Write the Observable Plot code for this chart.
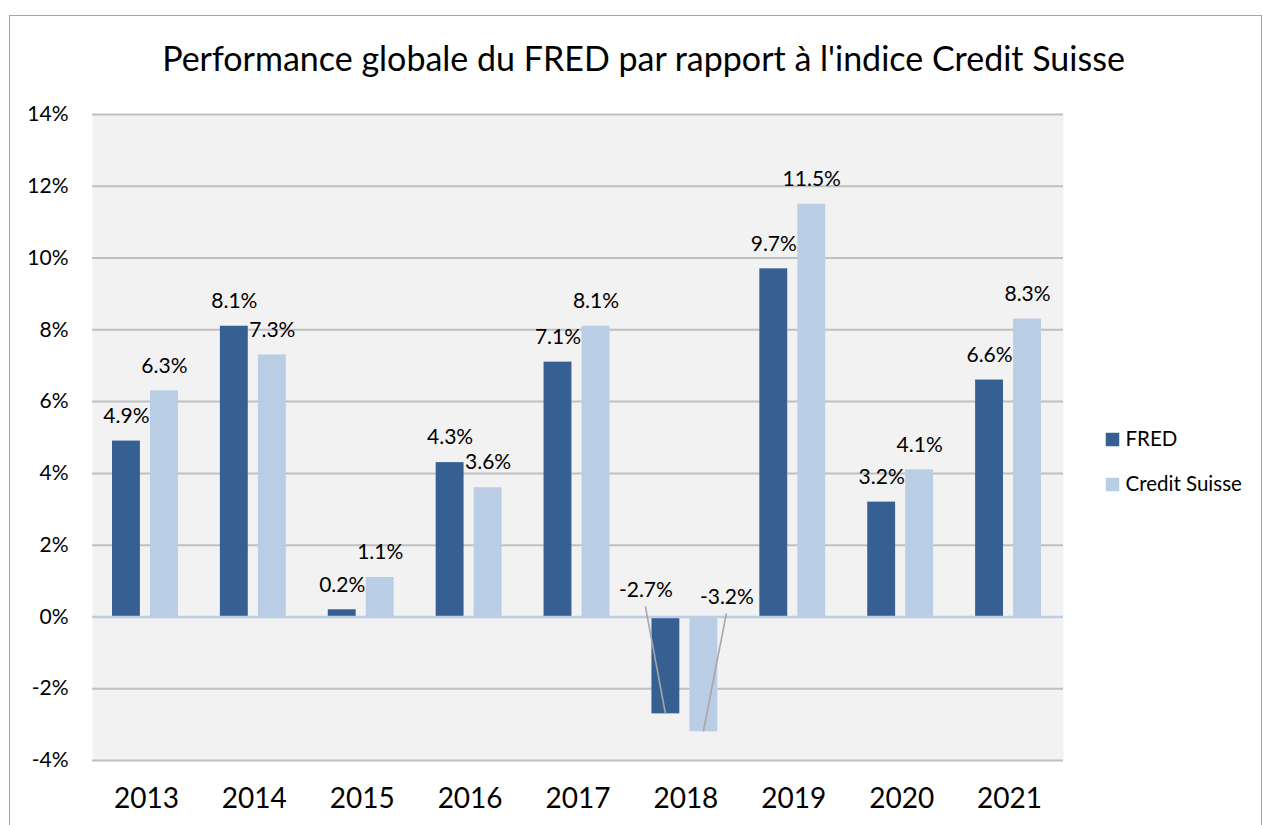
<!DOCTYPE html>
<html>
<head>
<meta charset="utf-8">
<script src="https://cdn.jsdelivr.net/npm/d3@7"></script>
<script src="https://cdn.jsdelivr.net/npm/@observablehq/plot@0.6"></script>
<style>
  html, body { margin: 0; padding: 0; background: #fff; }
  body { position: relative; width: 1263px; height: 825px; overflow: hidden; font-family: Lato, sans-serif; }
  #frame { position: absolute; left: 9px; top: 15px; width: 1253px; height: 900px; box-sizing: border-box;
           border: 1.5px solid #8faacd; border-bottom: none; pointer-events: none; }
  #title { height: 95px; box-sizing: border-box; padding-top: 41px; padding-left: 24px; text-align: center;
           font-size: 34px; line-height: 1; color: #000; white-space: nowrap; }
  #chart svg [aria-label^="x-axis"] text { font-size: 28px; }
</style>
</head>
<body>
<div id="frame"></div>
<div id="title">Performance globale du FRED par rapport à l'indice Credit Suisse</div>
<div id="chart"></div>
<script>
const years = ["2013", "2014", "2015", "2016", "2017", "2018", "2019", "2020", "2021"];
const fredValues = [4.9, 8.1, 0.2, 4.3, 7.1, -2.7, 9.7, 3.2, 6.6];
const csValues = [6.3, 7.3, 1.1, 3.6, 8.1, -3.2, 11.5, 4.1, 8.3];
const seriesNames = ["FRED", "Credit Suisse"];
const seriesColors = ["#366092", "#b9cde5"];
const yTicks = [-4, -2, 0, 2, 4, 6, 8, 10, 12, 14];

const fredRows = years.map((year, i) => ({year, series: seriesNames[0], value: fredValues[i]}));
const csRows = years.map((year, i) => ({year, series: seriesNames[1], value: csValues[i]}));
const fmt = v => v.toFixed(1) + "%";

// leader lines for the labels moved away from negative bars
function leaders(index, scales) {
  const g = d3.create("svg:g").attr("aria-label", "leader lines");
  const x = scales.x, y = scales.y, bw = x.bandwidth();
  const specs = [
    {rows: fredRows, labelDx: -40, labelDy: -27, barDx: -20},
    {rows: csRows, labelDx: 41, labelDy: -20, barDx: 18}
  ];
  for (const s of specs) {
    for (const d of s.rows.filter(r => r.value < 0)) {
      const cx = x(d.year) + bw / 2;
      g.append("line")
        .attr("x1", cx + s.labelDx).attr("y1", y(0) + s.labelDy + 17)
        .attr("x2", cx + s.barDx).attr("y2", y(d.value))
        .attr("stroke", "#a6a6a6").attr("stroke-width", 1.6);
    }
  }
  return g.node();
}

const plot = Plot.plot({
  width: 1263,
  height: 730,
  marginLeft: 92,
  marginRight: 200,
  marginTop: 19,
  marginBottom: 65,
  style: {fontFamily: "Lato, sans-serif", fontSize: "21px", color: "#000", background: "transparent", overflow: "visible"},
  x: {type: "band", domain: years, padding: 0, round: false, label: null, tickSize: 0, tickPadding: 28},
  y: {domain: [-4, 14], ticks: yTicks, tickFormat: d => d + "%", tickSize: 0, tickPadding: 24, label: null},
  marks: [
    Plot.frame({fill: "#f2f2f2", stroke: "none"}),
    Plot.ruleY(yTicks.filter(t => t !== 0), {stroke: "#c0c0c0", strokeWidth: 2}),
    Plot.barY(fredRows, {x: "year", y: "value", fill: seriesColors[0], insetLeft: 20, insetRight: 60}),
    Plot.barY(csRows, {x: "year", y: "value", fill: seriesColors[1], insetLeft: 58, insetRight: 22}),
    Plot.ruleY([0], {stroke: "#bccee6", strokeWidth: 2.5}),
    leaders,
    Plot.text(fredRows, {filter: d => d.value >= 0, x: "year", y: "value", text: d => fmt(d.value), dx: -20, dy: -25, fill: "#000"}),
    Plot.text(csRows, {filter: d => d.value >= 0, x: "year", y: "value", text: d => fmt(d.value), dx: 18, dy: -25, fill: "#000"}),
    Plot.text(fredRows, {filter: d => d.value < 0, x: "year", y: d => 0, text: d => fmt(d.value), dx: -40, dy: -27, fill: "#000"}),
    Plot.text(csRows, {filter: d => d.value < 0, x: "year", y: d => 0, text: d => fmt(d.value), dx: 41, dy: -20, fill: "#000"}),
    // legend
    Plot.dot([seriesNames[0]], {frameAnchor: "right", dx: 49, dy: 2, symbol: "square", r: 7.6, fill: seriesColors[0]}),
    Plot.dot([seriesNames[1]], {frameAnchor: "right", dx: 49, dy: 47, symbol: "square", r: 7.6, fill: seriesColors[1]}),
    Plot.text([seriesNames[0]], {frameAnchor: "right", dx: 62, dy: 1.5, text: d => d, textAnchor: "start", fontSize: 20.5, fill: "#000"}),
    Plot.text([seriesNames[1]], {frameAnchor: "right", dx: 62, dy: 46.5, text: d => d, textAnchor: "start", fontSize: 20.5, fill: "#000"})
  ]
});
document.getElementById("chart").appendChild(plot);
</script>
</body>
</html>
